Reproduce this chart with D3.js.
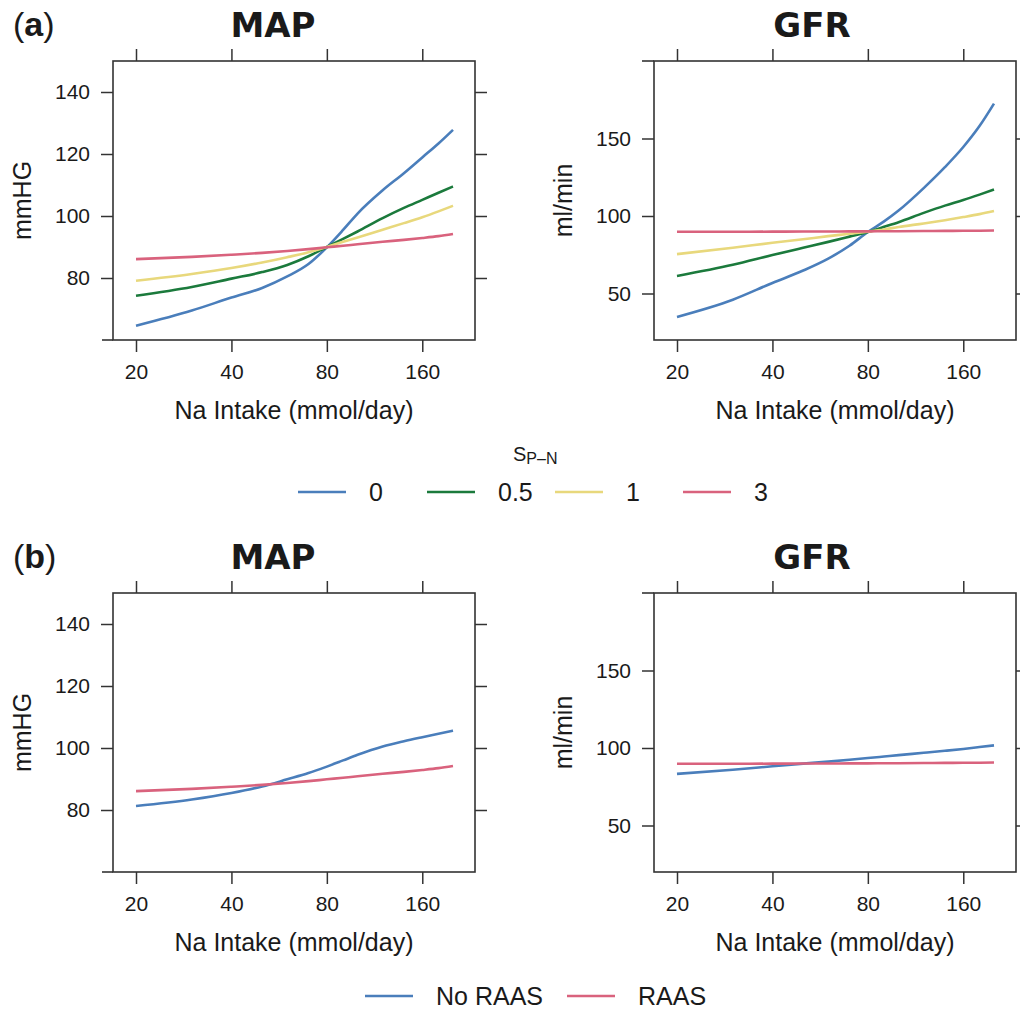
<!DOCTYPE html>
<html>
<head>
<meta charset="utf-8">
<script src="https://cdn.jsdelivr.net/npm/d3@7"></script>
<style>
  body { margin: 0; background: #fff; }
  svg { display: block; }
  text { font-family: "Liberation Sans", Arial, sans-serif; fill: #1a1a1a; }
</style>
</head>
<body>
<script>
/* DATA */
var naIntake = [20, 30, 40, 50, 60, 70, 80, 90, 100, 120, 140, 160, 180, 200];

// (a) MAP by S_P-N
var mapS0   = [64.6, 69.5, 73.7, 76.8, 80.5, 84.5, 89.9, 95.5, 100.8, 108.3, 113.8, 118.9, 123.4, 127.8];
var mapS05  = [74.3, 77.1, 79.8, 81.9, 84.2, 87.0, 90.0, 92.6, 95.0, 99.3, 102.6, 105.2, 107.5, 109.5];
var mapS1   = [79.1, 81.3, 83.2, 85.0, 86.7, 88.3, 90.0, 91.7, 93.1, 95.6, 97.7, 99.6, 101.5, 103.3];
var mapS3   = [86.1, 86.8, 87.5, 88.1, 88.7, 89.3, 89.9, 90.4, 90.9, 91.7, 92.3, 92.9, 93.5, 94.2];

// (a) GFR by S_P-N
var gfrS0   = [34.9, 46.0, 56.8, 64.8, 72.5, 80.8, 89.7, 96.5, 103.5, 118.0, 131.5, 144.5, 158.0, 172.5];
var gfrS05  = [61.3, 68.5, 74.8, 79.5, 83.3, 86.7, 89.7, 93.0, 96.0, 102.0, 106.7, 110.3, 113.8, 117.1];
var gfrS1   = [75.4, 79.5, 82.7, 85.0, 87.0, 88.5, 89.9, 91.3, 92.9, 95.2, 97.3, 99.3, 101.2, 103.2];
var gfrS3   = [89.8, 89.85, 89.9, 90.0, 90.0, 90.05, 90.1, 90.15, 90.2, 90.3, 90.4, 90.45, 90.5, 90.6];

// (b) MAP / GFR, RAAS on or off
var mapNoRaas = [81.3, 83.4, 85.5, 87.6, 89.9, 91.9, 94.0, 96.0, 97.8, 100.5, 102.2, 103.5, 104.6, 105.6];
var mapRaas   = [86.1, 86.8, 87.5, 88.1, 88.7, 89.3, 89.9, 90.4, 90.9, 91.7, 92.3, 92.9, 93.5, 94.2];
var gfrNoRaas = [83.3, 86.0, 88.2, 89.9, 91.2, 92.4, 93.5, 94.5, 95.4, 96.9, 98.2, 99.4, 100.6, 101.7];
var gfrRaas   = [89.8, 89.85, 89.9, 90.0, 90.0, 90.05, 90.1, 90.15, 90.2, 90.3, 90.4, 90.45, 90.5, 90.6];

var xTicks    = [20, 40, 80, 160];
var mapTicks  = [80, 100, 120, 140];
var gfrTicks  = [50, 100, 150];
var spnLabels = ['0', '0.5', '1', '3'];
var raasLabels = ['No RAAS', 'RAAS'];

/* STYLE */
var c = {
  blue:   '#4a7ebb',
  green:  '#1b7a3c',
  yellow: '#e8d87c',
  red:    '#d9627d',
  axis:   '#333',
};
var spnColors  = [c.blue, c.green, c.yellow, c.red];
var raasColors = [c.blue, c.red];

var W = 1020, H = 1015,
    boxW = 362, boxH = 279,
    tick = 12;

var svg = d3.select('body').append('svg')
  .attr('width', W)
  .attr('height', H);

/* PANEL */
function panel(left, top, title, titleX, yLabel, yDomain, yTicks, series, colors, extendSide) {
  var g = svg.append('g');
  var right = left + boxW, bottom = top + boxH;

  var x = d3.scaleLog().base(2).domain([20, 200]).range([left + 23, right - 22]);
  var y = d3.scaleLinear().domain(yDomain).range([bottom, top]);

  // ticks on all four sides, labels on left and bottom only
  g.append('g').attr('transform', 'translate(0,' + bottom + ')')
    .call(d3.axisBottom(x).tickValues(xTicks).tickFormat(d3.format('d')).tickSize(tick).tickPadding(12));
  g.append('g').attr('transform', 'translate(0,' + top + ')')
    .call(d3.axisTop(x).tickValues(xTicks).tickFormat('').tickSize(tick));
  g.append('g').attr('transform', 'translate(' + left + ',0)')
    .call(d3.axisLeft(y).tickValues(yTicks).tickSize(tick).tickPadding(11));
  g.append('g').attr('transform', 'translate(' + right + ',0)')
    .call(d3.axisRight(y).tickValues(yTicks).tickFormat('').tickSize(tick));

  g.selectAll('.domain').remove();
  g.selectAll('.tick line').attr('stroke', c.axis).attr('stroke-width', 1.5);
  g.selectAll('.tick text')
    .style('font-family', '"Liberation Sans", Arial, sans-serif')
    .style('font-size', '21px')
    .attr('fill', '#1a1a1a');

  g.append('rect')
    .attr('x', left).attr('y', top)
    .attr('width', boxW).attr('height', boxH)
    .attr('fill', 'none')
    .attr('stroke', c.axis)
    .attr('stroke-width', 1.6);

  // small overhang of the frame line seen in the figure
  if (extendSide === 'bottom') {
    g.append('line').attr('x1', left - 11).attr('x2', left).attr('y1', bottom).attr('y2', bottom)
      .attr('stroke', c.axis).attr('stroke-width', 1.6);
  } else {
    g.append('line').attr('x1', left - 12).attr('x2', left).attr('y1', top).attr('y2', top)
      .attr('stroke', c.axis).attr('stroke-width', 1.6);
  }

  var line = d3.line()
    .x(function(d, i){ return x(naIntake[i]); })
    .y(function(d){ return y(d); })
    .curve(d3.curveMonotoneX);

  g.selectAll('path.series')
    .data(series)
    .enter()
      .append('path')
      .attr('class', 'series')
      .attr('d', line)
      .attr('fill', 'none')
      .attr('stroke', function(d, i){ return colors[i]; })
      .attr('stroke-width', 2.6);

  g.append('text')
    .attr('x', titleX).attr('y', top - 24)
    .attr('text-anchor', 'middle')
    .style('font-family', '"DejaVu Sans", Verdana, sans-serif')
    .style('font-weight', 'bold')
    .style('font-size', '34px')
    .text(title);

  g.append('text')
    .attr('x', (left + right) / 2).attr('y', bottom + 79)
    .attr('text-anchor', 'middle')
    .style('font-size', '25px')
    .text('Na Intake (mmol/day)');

  g.append('text')
    .attr('transform', 'translate(' + (left - 82) + ',' + ((top + bottom) / 2) + ') rotate(-90)')
    .attr('text-anchor', 'middle')
    .style('font-size', '25px')
    .text(yLabel);
}

function tag(letter, yBase) {
  var t = svg.append('text').attr('x', 13).attr('y', yBase).style('font-size', '34px');
  t.append('tspan').text('(');
  t.append('tspan').style('font-weight', 'bold').text(letter);
  t.append('tspan').text(')');
}

function legend(labels, colors, lineX, yMid) {
  var g = svg.append('g');
  g.selectAll('line')
    .data(labels)
    .enter()
      .append('line')
      .attr('x1', function(d, i){ return lineX[i]; })
      .attr('x2', function(d, i){ return lineX[i] + 48; })
      .attr('y1', yMid).attr('y2', yMid)
      .attr('stroke', function(d, i){ return colors[i]; })
      .attr('stroke-width', 2.6);
  g.selectAll('text')
    .data(labels)
    .enter()
      .append('text')
      .attr('x', function(d, i){ return lineX[i] + 71; })
      .attr('y', yMid + 9)
      .style('font-size', '25px')
      .text(function(d){ return d; });
}

/* (a) */
tag('a', 36);
panel(113, 61, 'MAP', 273, 'mmHG', [60, 150], mapTicks,
      [mapS0, mapS05, mapS1, mapS3], spnColors, 'bottom');
panel(654, 61, 'GFR', 812, 'ml/min', [20, 200], gfrTicks,
      [gfrS0, gfrS05, gfrS1, gfrS3], spnColors, 'top');

var lt = svg.append('text').attr('x', 513).attr('y', 461).style('font-size', '20px');
lt.append('tspan').text('S');
lt.append('tspan').attr('dy', 3).style('font-size', '16px').text('P\u2013N');
legend(spnLabels, spnColors, [298, 427, 555, 683], 492);

/* (b) */
tag('b', 568);
panel(113, 593, 'MAP', 273, 'mmHG', [60, 150], mapTicks,
      [mapNoRaas, mapRaas], raasColors, 'bottom');
panel(654, 593, 'GFR', 812, 'ml/min', [20, 200], gfrTicks,
      [gfrNoRaas, gfrRaas], raasColors, 'top');

legend(raasLabels, raasColors, [365, 567], 996);
</script>
</body>
</html>
